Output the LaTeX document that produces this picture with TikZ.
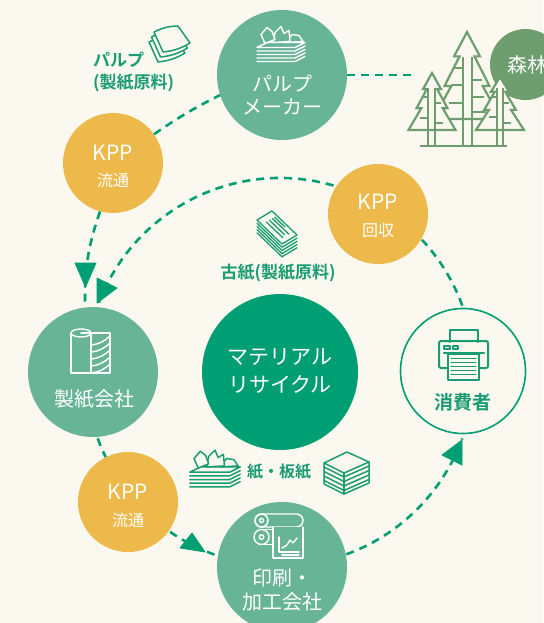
\documentclass[tikz,border=0pt]{standalone}
\usepackage{fontspec}
\newfontfamily\jp{Noto Sans CJK JP}[BoldFont={Noto Sans CJK JP Bold}]
\usetikzlibrary{calc}
\definecolor{paper}{HTML}{FBF9EF}
\definecolor{deepgreen}{HTML}{009E73}
\definecolor{midgreen}{HTML}{68B497}
\definecolor{forest}{HTML}{6E9E70}
\definecolor{kppyellow}{HTML}{EEB94B}
\definecolor{labelgreen}{HTML}{1A9B74}

% fir tree outline: centre x, apex y (downwards), half base width, height
\newcommand\drawfir[4]{%
  \filldraw[treeline, fill=paper]
    (#1,-#2) -- ({#1+0.38*#3},{-#2-0.28*#4}) -- ({#1+0.22*#3},{-#2-0.28*#4})
    -- ({#1+0.66*#3},{-#2-0.62*#4}) -- ({#1+0.46*#3},{-#2-0.62*#4})
    -- ({#1+#3},{-#2-#4}) -- ({#1-#3},{-#2-#4})
    -- ({#1-0.46*#3},{-#2-0.62*#4}) -- ({#1-0.66*#3},{-#2-0.62*#4})
    -- ({#1-0.22*#3},{-#2-0.28*#4}) -- ({#1-0.38*#3},{-#2-0.28*#4}) -- cycle;}

\tikzset{
  pulppile/.pic={
    \foreach \k in {4,3,2,1}
      \draw (-24,{-4-3.5*\k}) -- (14,{-4-3.5*\k}) -- (24,{1-3.5*\k});
    \filldraw[pilefill] (-24,-4) -- (14,-4) -- (24,1) -- (-14,1) -- cycle;
    \filldraw[pilefill] (5,1) -- (11,9) -- (18,8) -- (22,2) -- cycle;
    \filldraw[pilefill] (-8,1) -- (-6,11) -- (0,17) -- (3,10) -- (8,13) -- (9,2) -- cycle;
    \filldraw[pilefill] (-16,0) -- (-20,9) -- (-14,16) -- (-9,12) -- (-6,4) -- cycle;
  }
}

\begin{document}
\begin{tikzpicture}[x=1pt,y=1pt,
  disc/.style={circle, inner sep=0pt, draw=none},
  hub/.style={disc, fill=midgreen, minimum size=130pt},
  kpp/.style={disc, fill=kppyellow, minimum size=100pt},
  flow/.style={draw=deepgreen, line width=2.6pt, dash pattern=on 8pt off 6pt},
  tip/.style={fill=deepgreen, draw=deepgreen, line width=0.8pt, line join=round},
  iconw/.style={color=white, line width=1.4pt, line join=round, line cap=round},
  icong/.style={color=labelgreen, line width=1.5pt, line join=round, line cap=round},
  inlabel/.style={inner sep=0pt, text=white, font=\jp\fontsize{20}{24}\selectfont},
  kppword/.style={inner sep=0pt, text=white, font=\jp\fontsize{21}{25}\selectfont},
  kppsub/.style={inner sep=0pt, text=white, font=\jp\fontsize{16}{20}\selectfont},
  tag/.style={inner sep=0pt, text=labelgreen, font=\jp\bfseries\fontsize{17}{21}\selectfont},
  treeline/.style={draw=forest, line width=2.2pt, line join=miter},
]
\useasboundingbox (0,0) rectangle (543,-623);
\fill[paper] (0,0) rectangle (543,-623);

% ---- circles ----
\node[hub] (pm) at (282,-75) {};
\node[disc, fill=forest, minimum size=71pt] (woods) at (525.5,-64.5) {};
\node[kpp] (kppa) at (113,-163) {};
\node[kpp] (kppb) at (378,-214) {};
\node[hub] (mill) at (93,-372) {};
\node[disc, fill=deepgreen, minimum size=156pt] (mr) at (280,-372) {};
\node[disc, fill=paper, draw=deepgreen, line width=1.6pt, minimum size=125pt] (cons) at (463,-371) {};
\node[kpp] (kppc) at (128,-502) {};
\node[hub] (prt) at (282,-567) {};

% ---- connectors ----
\coordinate (grove) at (417,-75);
\draw[flow] (pm.east) -- (grove);
\draw[flow] (kppa.35) to[bend left=4] (pm.198);
\draw[flow] (kppa.255) to[bend right=10] (mill.97);
\draw[flow] ([shift={(20:194)}]mr.center) arc[start angle=20, end angle=43, radius=194];
\draw[flow] ([shift={(74:194)}]mr.center) arc[start angle=74, end angle=160, radius=194];
\draw[flow] ([shift={(200:194)}]mr.center) arc[start angle=200, end angle=206, radius=194];
\draw[flow] ([shift={(235.5:194)}]mr.center) arc[start angle=235.5, end angle=251, radius=194];
\draw[flow] ([shift={(290:194)}]mr.center) arc[start angle=290, end angle=340, radius=194];

% arrow heads
\filldraw[tip] (75,-263) -- (96,-263) -- (85.5,-287) -- cycle;
\filldraw[tip] (97,-278) -- (117,-288) -- (97,-303) -- cycle;
\filldraw[tip] (180,-548) -- (192,-533) -- (205,-552) -- cycle;
\filldraw[tip] (442,-455) -- (462,-440) -- (462,-465) -- cycle;

% ---- forest ----
\drawfir{467}{32}{34}{87}
\draw[treeline] (463,-57) -- (463,-146) (472,-57) -- (472,-146);
\draw[treeline] (453,-68) -- (463,-68) (451,-85) -- (463,-85) (449,-103) -- (463,-103);
\draw[treeline] (472,-80) -- (482,-80) (472,-97) -- (484,-97) (472,-112) -- (486,-112);
\drawfir{432}{73}{23.5}{57}
\drawfir{500}{77}{24}{53}
\draw[treeline] (428,-88) -- (428,-146) (435,-88) -- (435,-146);
\draw[treeline] (422,-97) -- (428,-97) (420,-118) -- (428,-118) (435,-103) -- (441,-103) (435,-123) -- (443,-123);
\draw[treeline] (497,-88) -- (497,-146) (503,-88) -- (503,-146);
\draw[treeline] (491,-97) -- (497,-97) (489,-117) -- (497,-117) (503,-103) -- (509,-103) (503,-123) -- (511,-123);
\draw[treeline] (420,-146) -- (507,-146);
\node[inlabel] (woodstxt) at (527,-65) {森林};

% ---- icons ----
% pulp sheets beside the pulp label
\foreach \dx/\dy in {-5/10, -2.5/5, 0/0}
  \filldraw[icong, fill=paper, shift={(\dx,-\dy)}]
    (154,-32) to[bend left=12] (178,-26) -- (190,-43) to[bend left=12] (163,-52) -- cycle;
% pulp pile in the pulp maker
\pic[iconw, pilefill/.style={fill=midgreen}] at (281,-43.5) {pulppile};
% pulp pile beside paper / board
\pic[icong, scale=1.05, pilefill/.style={fill=paper}] at (215,-468) {pulppile};
% board stack
\begin{scope}[icong]
  \filldraw[fill=paper] (347,-452) -- (369,-462) -- (344,-473) -- (324,-463) -- cycle;
  \draw (324,-463) -- (324,-484) -- (344,-494) -- (369,-483) -- (369,-462);
  \draw (344,-473) -- (344,-494);
  \foreach \d in {4,8.5,13,17.5}
    \draw (324,{-463-\d}) -- (344,{-473-\d}) -- (369,{-462-\d});
\end{scope}
% waste paper stack
\begin{scope}[icong, line width=1.3pt]
  \foreach \k in {4,3,2,1}
    \draw (257,{-220-3.2*\k}) -- (282,{-244-3.2*\k}) -- (297,{-235-3.2*\k});
  \filldraw[fill=paper] (257,-220) -- (272,-211) -- (297,-235) -- (282,-244) -- cycle;
  \draw (266.5,-222.1) -- (282.8,-237.7);
  \draw (269.5,-220.3) -- (284.5,-234.7);
  \draw (272.5,-218.5) -- (288.8,-234.1);
  \draw (274.8,-217.2) -- (284.8,-226.8);
\end{scope}
% paper roll in the paper mill
\begin{scope}[iconw]
  \draw (71,-333) -- (71,-373) -- (110,-373) -- (110,-333) -- (81,-333);
  \draw (81,-333) ellipse[x radius=10, y radius=4];
  \draw (91,-333) -- (91,-373);
  \foreach \yy in {345,352,359,366,373}
    \draw (92,-\yy) .. controls (99,{-\yy+1}) and (105,{-\yy+4}) .. (110,{-\yy+9});
\end{scope}
% printer in the consumer circle
\begin{scope}[icong, line width=2pt]
  \draw (450,-342) -- (450,-330) -- (478,-330) -- (478,-342);
  \draw[rounded corners=2pt] (439,-341) rectangle (488,-368);
  \draw (444,-346) rectangle (450,-349);
  \draw (453,-346) rectangle (458,-349);
  \draw[line width=2.6pt] (444,-353) -- (484,-353);
  \filldraw[fill=paper] (448,-354) rectangle (479,-380);
  \foreach \yy in {358.5,362.5,366.5,370.5,374.5}
    \draw[line width=1.4pt] (451,-\yy) -- (476,-\yy);
\end{scope}
% printing rolls
\begin{scope}[iconw]
  \draw[rounded corners=6.5pt] (255,-514) rectangle (303,-527);
  \draw (261.5,-520.5) circle[radius=6.5];
  \draw (261.5,-520.5) circle[radius=2];
  \filldraw[fill=midgreen] (273,-527) -- (273,-558) -- (303,-558) -- (303,-527);
  \draw (255,-537) -- (255,-537);
  \filldraw[fill=midgreen] (261.5,-537) circle[radius=7.5];
  \draw (261.5,-537) circle[radius=2.3];
  \draw (261.5,-529.5) -- (273,-529.5) (261.5,-544.5) -- (273,-544.5);
  \draw (279,-537) -- (279,-552) -- (299,-552);
  \draw (282,-548) -- (287,-545) -- (290,-540) -- (293,-543) -- (297,-538);
  \draw (282,-555) -- (299,-555);
\end{scope}

% ---- texts ----
\node[inlabel] (pmtxt1) at (282,-84) {パルプ};
\node[inlabel] (pmtxt2) at (282,-107) {メーカー};
\node[kppword] (kppa1) at (113,-153) {KPP};
\node[kppsub] (kppa2) at (113,-180) {流通};
\node[kppword] (kppb1) at (378,-202) {KPP};
\node[kppsub] (kppb2) at (378,-230) {回収};
\node[inlabel] (milltxt) at (94,-399) {製紙会社};
\node[inlabel, font=\jp\fontsize{21}{25}\selectfont] (mr1) at (280,-357) {マテリアル};
\node[inlabel, font=\jp\fontsize{21}{25}\selectfont] (mr2) at (280,-385) {リサイクル};
\node[tag, font=\jp\bfseries\fontsize{19}{23}\selectfont] (constxt) at (463,-402) {消費者};
\node[kppword] (kppc1) at (128,-492) {KPP};
\node[kppsub] (kppc2) at (128,-520) {流通};
\node[inlabel] (prt1) at (282,-578) {印刷・};
\node[inlabel] (prt2) at (282,-602) {加工会社};
\node[tag, anchor=west] (pulptag1) at (93,-60) {パルプ};
\node[tag, anchor=west] (pulptag2) at (93,-83) {(製紙原料)};
\node[tag] (koshi) at (278,-273) {古紙(製紙原料)};
\node[tag, font=\jp\bfseries\fontsize{16}{20}\selectfont] (kami) at (279,-472) {紙・板紙};
\end{tikzpicture}
\end{document}
